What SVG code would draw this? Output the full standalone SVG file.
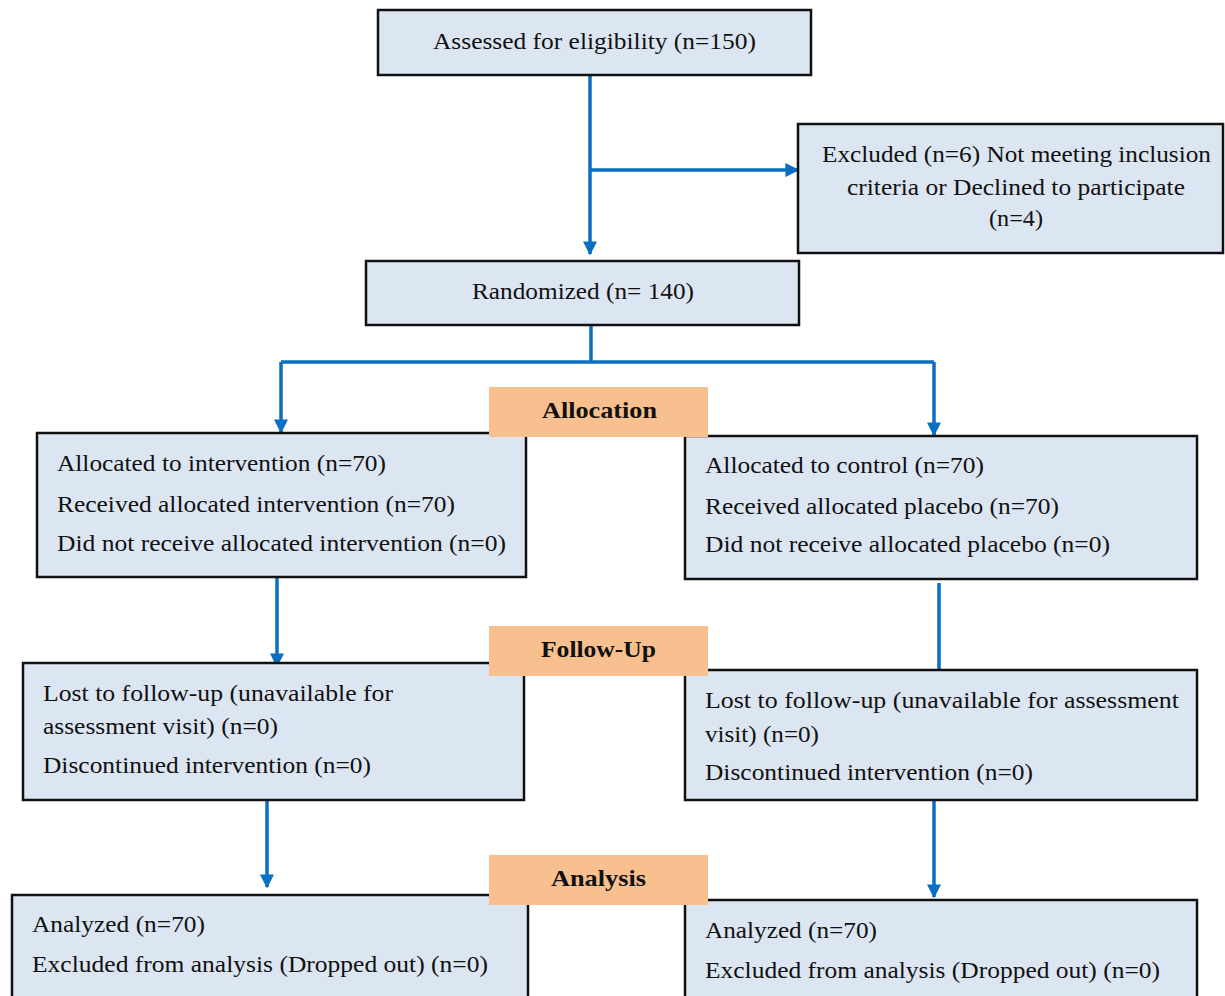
<svg xmlns="http://www.w3.org/2000/svg" width="1225" height="996" viewBox="0 0 1225 996">
<style>
.box{fill:#DCE6F2;stroke:#111;stroke-width:2.5}
.lab{fill:#F9C08F;stroke:none}
.t{font-family:"Liberation Serif",serif;font-size:23px;fill:#111}
.c{text-anchor:middle}
.b{font-weight:bold;font-size:23px}
.con{fill:none;stroke:#0A6FC2;stroke-width:3.5}
</style>
<defs>
<marker id="ah" viewBox="0 0 10 10" refX="9" refY="5" markerWidth="4" markerHeight="4" markerUnits="strokeWidth" orient="auto">
<path d="M0,0 L10,5 L0,10 z" fill="#0A6FC2"/>
</marker>
</defs>
<rect width="1225" height="996" fill="#fff"/>
<g id="connectors">
<path class="con" d="M590,75 V254" marker-end="url(#ah)"/>
<path class="con" d="M590,170 H798" marker-end="url(#ah)"/>
<path class="con" d="M591,325 V362"/>
<path class="con" d="M281,362 H934"/>
<path class="con" d="M281,362 V432" marker-end="url(#ah)"/>
<path class="con" d="M934,362 V435" marker-end="url(#ah)"/>
<path class="con" d="M277,577 V666" marker-end="url(#ah)"/>
<path class="con" d="M939,583 V670"/>
<path class="con" d="M267,800 V887" marker-end="url(#ah)"/>
<path class="con" d="M934,800 V897" marker-end="url(#ah)"/>
</g>
<g id="assessed">
<rect class="box" x="378" y="10" width="433" height="65"/>
<text class="t" x="433" y="49" textLength="323" lengthAdjust="spacingAndGlyphs">Assessed for eligibility  (n=150)</text>
</g>
<g id="excluded">
<rect class="box" x="798" y="124" width="425" height="129"/>
<text class="t" x="822" y="162" textLength="389" lengthAdjust="spacingAndGlyphs">Excluded (n=6) Not meeting inclusion</text>
<text class="t" x="847" y="195" textLength="338" lengthAdjust="spacingAndGlyphs">criteria or Declined to participate</text>
<text class="t" x="989" y="226" textLength="54" lengthAdjust="spacingAndGlyphs">(n=4)</text>
</g>
<g id="randomized">
<rect class="box" x="366" y="261" width="433" height="64"/>
<text class="t" x="472" y="299" textLength="222" lengthAdjust="spacingAndGlyphs">Randomized (n= 140)</text>
</g>
<g id="alloc-int">
<rect class="box" x="37" y="433" width="489" height="144"/>
<text class="t" x="57" y="471" textLength="329" lengthAdjust="spacingAndGlyphs">Allocated to intervention  (n=70)</text>
<text class="t" x="57" y="512" textLength="398" lengthAdjust="spacingAndGlyphs">Received allocated intervention  (n=70)</text>
<text class="t" x="57" y="551" textLength="449" lengthAdjust="spacingAndGlyphs">Did not receive allocated intervention  (n=0)</text>
</g>
<g id="alloc-ctl">
<rect class="box" x="685" y="436" width="512" height="143"/>
<text class="t" x="705" y="473" textLength="279" lengthAdjust="spacingAndGlyphs">Allocated to control (n=70)</text>
<text class="t" x="705" y="514" textLength="354" lengthAdjust="spacingAndGlyphs">Received allocated placebo (n=70)</text>
<text class="t" x="705" y="552" textLength="405" lengthAdjust="spacingAndGlyphs">Did not receive allocated placebo (n=0)</text>
</g>
<g id="follow-int">
<rect class="box" x="23" y="663" width="501" height="137"/>
<text class="t" x="43" y="701" textLength="350" lengthAdjust="spacingAndGlyphs">Lost to follow-up  (unavailable  for</text>
<text class="t" x="43" y="734" textLength="235" lengthAdjust="spacingAndGlyphs">assessment visit) (n=0)</text>
<text class="t" x="43" y="773" textLength="328" lengthAdjust="spacingAndGlyphs">Discontinued  intervention  (n=0)</text>
</g>
<g id="follow-ctl">
<rect class="box" x="685" y="670" width="512" height="130"/>
<text class="t" x="705" y="708" textLength="474" lengthAdjust="spacingAndGlyphs">Lost to follow-up (unavailable for assessment</text>
<text class="t" x="705" y="742" textLength="114" lengthAdjust="spacingAndGlyphs">visit)  (n=0)</text>
<text class="t" x="705" y="780" textLength="328" lengthAdjust="spacingAndGlyphs">Discontinued  intervention  (n=0)</text>
</g>
<g id="analysis-int">
<rect class="box" x="12" y="895" width="516" height="110"/>
<text class="t" x="32" y="932" textLength="173" lengthAdjust="spacingAndGlyphs">Analyzed (n=70)</text>
<text class="t" x="32" y="972" textLength="456" lengthAdjust="spacingAndGlyphs">Excluded  from analysis (Dropped out) (n=0)</text>
</g>
<g id="analysis-ctl">
<rect class="box" x="685" y="900" width="512" height="110"/>
<text class="t" x="705" y="938" textLength="172" lengthAdjust="spacingAndGlyphs">Analyzed (n=70)</text>
<text class="t" x="705" y="978" textLength="455" lengthAdjust="spacingAndGlyphs">Excluded  from analysis (Dropped out) (n=0)</text>
</g>
<g id="label-allocation">
<rect class="lab" x="489" y="387" width="219" height="50"/>
<text class="t b" x="542" y="418" textLength="115" lengthAdjust="spacingAndGlyphs">Allocation</text>
</g>
<g id="label-followup">
<rect class="lab" x="489" y="626" width="219" height="50"/>
<text class="t b" x="541" y="657" textLength="115" lengthAdjust="spacingAndGlyphs">Follow-Up</text>
</g>
<g id="label-analysis">
<rect class="lab" x="489" y="855" width="219" height="50"/>
<text class="t b" x="551" y="886" textLength="95" lengthAdjust="spacingAndGlyphs">Analysis</text>
</g>
</svg>
